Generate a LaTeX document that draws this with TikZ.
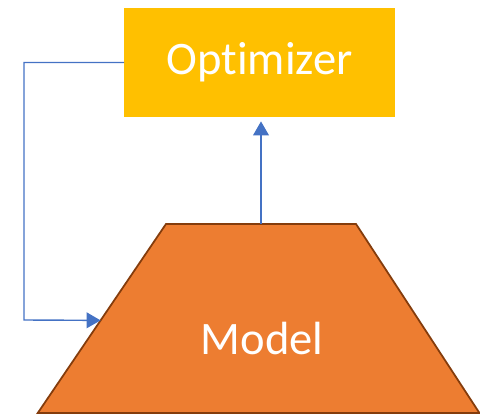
\documentclass[tikz,border=0pt]{standalone}
\usepackage{fontspec}
\setmainfont[Ligatures=NoCommon]{Carlito}
\usepackage{tikz}
\usetikzlibrary{arrows.meta,positioning,calc,shapes.geometric}
\definecolor{OptGold}{HTML}{FFC000}
\definecolor{ModelOrange}{HTML}{ED7D31}
\definecolor{ModelEdge}{HTML}{843C0C}
\definecolor{LinkBlue}{HTML}{4472C4}
\begin{document}
\begin{tikzpicture}[x=0.02cm,y=-0.02cm,
  link/.style={draw=LinkBlue,line width=0.8pt,-{Triangle[width=9pt,length=8pt]}},
  boxtext/.style={text=white,font=\fontsize{26.5}{30}\selectfont}]
  \useasboundingbox (0,0) rectangle (480,415);
  % Optimierer oben
  \node[fill=OptGold,minimum width=5.42cm,minimum height=2.18cm,outer sep=0pt,boxtext] (opt) at (259.5,62.5) {Optimizer};
  % Modell als Trapez
  \node[trapezium,trapezium stretches=true,trapezium left angle=56,trapezium right angle=57,
    minimum width=8.84cm,minimum height=3.78cm,outer sep=0pt,
    fill=ModelOrange,draw=ModelEdge,line width=1pt] (model) at (261,318.5) {};
  \node[boxtext] (modellbl) at (262,338) {Model};
  \coordinate (loop) at (24,320);
  \coordinate (entry) at ($(model.bottom left corner)!0.49!(model.top left corner)$);
  % Verbindungen
  \draw[link,shorten >=2.5pt] (model.north) -- (model.north |- opt.south);
  \draw[link] (opt.west) -| (loop) -- (entry);
\end{tikzpicture}
\end{document}
